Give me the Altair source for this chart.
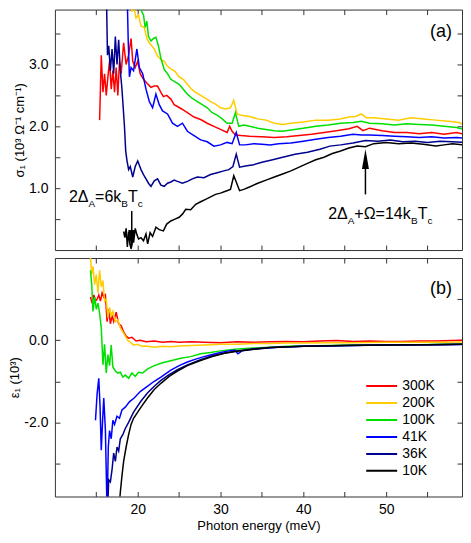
import altair as alt
import pandas as pd

TEMPS = ["300K", "200K", "100K", "41K", "36K", "10K"]
COLORS = ["#ff0000", "#ffcc00", "#00e000", "#0000ff", "#000090", "#000000"]

X_DOMAIN = [10, 59.16]
S1_DOMAIN = [0, 3.887]
E1_DOMAIN = [-3.805, 2]
X_TICKS = [15, 20, 25, 30, 35, 40, 45, 50, 55]
S1_TICKS = [0.5, 1.0, 1.5, 2.0, 2.5, 3.0, 3.5]
E1_TICKS = [-3, -2, -1, 0, 1]

# ---------------- sigma_1 (top panel) ----------------
S1_300K_X = [15.4, 15.6, 15.8, 16.0, 16.2, 16.4, 16.6, 16.8, 17.0, 17.2, 17.4, 17.6, 17.8, 18.0, 18.3, 18.6, 18.9, 19.2, 19.4, 19.7, 20.0, 20.3, 20.7, 21.1, 21.6, 22.0, 22.4, 22.8, 23.1, 23.5, 24.0, 24.4, 24.8, 25.3, 26.0, 26.8, 27.6, 28.4, 29.2, 30.0, 30.8, 31.1, 31.4, 31.8, 32.5, 33.5, 35, 36.5, 38, 39.5, 41, 42.5, 44, 45.5, 46.5, 47.2, 48, 49.5, 51, 52.5, 54, 55.5, 57, 58.5, 59.9]
S1_300K_Y = [2.1, 3.15, 2.55, 2.85, 2.5, 2.8, 3.05, 2.6, 2.9, 2.55, 2.95, 2.5, 3.05, 2.85, 3.35, 3.0, 3.15, 3.42, 3.05, 2.95, 3.05, 2.85, 2.76, 2.7, 2.63, 2.65, 2.65, 2.55, 2.48, 2.5, 2.44, 2.35, 2.32, 2.28, 2.22, 2.15, 2.11, 2.05, 2.0, 1.95, 1.9, 2.0, 1.92, 1.86, 1.85, 1.84, 1.83, 1.82, 1.83, 1.85, 1.87, 1.9, 1.93, 1.96, 2.0, 1.93, 1.97, 1.93, 1.9, 1.9, 1.88, 1.9, 1.87, 1.9, 1.86]

S1_200K_X = [19.1, 19.3, 19.5, 19.8, 20.1, 20.4, 20.8, 21.1, 21.4, 21.7, 22.0, 22.4, 22.8, 23.2, 23.6, 24.0, 24.5, 25.0, 25.5, 26.0, 26.5, 27.0, 27.6, 28.2, 28.8, 29.4, 30.0, 30.6, 31.2, 31.6, 32.0, 32.5, 33.5, 34.5, 35.5, 36.5, 37.5, 38.5, 40, 41.5, 43, 44.5, 45.5, 46.3, 47, 47.6, 48.5, 50, 51.5, 53, 54.5, 56, 57.5, 58.8, 59.9]
S1_200K_Y = [4.3, 3.85, 3.95, 3.75, 3.8, 3.62, 3.6, 3.42, 3.35, 3.3, 3.25, 3.13, 3.08, 3.05, 2.97, 2.93, 2.89, 2.8, 2.76, 2.68, 2.6, 2.55, 2.5, 2.45, 2.4, 2.36, 2.3, 2.28, 2.3, 2.42, 2.2, 2.18, 2.16, 2.12, 2.1, 2.05, 2.03, 2.05, 2.07, 2.1, 2.1, 2.12, 2.15, 2.16, 2.2, 2.14, 2.14, 2.12, 2.1, 2.14, 2.12, 2.1, 2.08, 2.06, 2.0]

S1_100K_X = [20.3, 20.5, 20.7, 20.9, 21.1, 21.3, 21.6, 21.9, 22.2, 22.5, 22.8, 23.2, 23.6, 24.0, 24.5, 25.0, 25.5, 26.0, 26.6, 27.2, 27.8, 28.4, 29.0, 29.6, 30.2, 30.8, 31.4, 31.8, 32.2, 32.8, 33.5, 34.5, 35.5, 36.5, 37.5, 38.5, 40, 41.5, 43, 44.5, 46, 47, 48, 49.5, 51, 52.5, 54, 55.5, 57, 58.5, 59.9]
S1_100K_Y = [4.3, 3.85, 3.8, 3.6, 3.7, 3.45, 3.38, 3.42, 3.44, 3.3, 3.1, 2.92, 2.85, 2.76, 2.72, 2.68, 2.6, 2.52, 2.45, 2.4, 2.35, 2.3, 2.22, 2.18, 2.12, 2.05, 2.05, 2.22, 2.0, 2.02, 2.0, 1.97, 1.95, 1.93, 1.92, 1.94, 1.97, 2.0, 2.02, 2.05, 2.06, 2.08, 2.05, 2.04, 2.02, 2.04, 2.03, 2.02, 2.0, 1.98, 1.93]

S1_41K_X = [18.7, 18.85, 19.0, 19.2, 19.5, 19.9, 20.2, 20.6, 21.0, 21.4, 21.8, 22.2, 22.6, 23.0, 23.6, 24.2, 24.8, 25.4, 26.0, 26.8, 27.6, 28.4, 29.2, 30.0, 30.8, 31.4, 31.9, 32.3, 33, 34, 35, 36, 37, 38.5, 40, 41.5, 43, 44.5, 46, 47, 48, 49.5, 51, 52.5, 54, 55.5, 57, 58.5, 59.9]
S1_41K_Y = [4.3, 3.4, 2.8, 2.95, 2.9, 3.25, 2.95, 2.85, 2.6, 2.4, 2.3, 2.52, 2.35, 2.25, 2.2, 2.05, 2.0, 2.05, 1.92, 1.85, 1.78, 1.75, 1.68, 1.7, 1.74, 1.72, 1.9, 1.7, 1.7, 1.72, 1.71, 1.7, 1.72, 1.73, 1.76, 1.79, 1.82, 1.84, 1.87, 1.86, 1.86, 1.85, 1.84, 1.83, 1.82, 1.83, 1.81, 1.82, 1.8]

S1_36K_X = [16.2, 16.35, 16.5, 16.7, 16.9, 17.1, 17.3, 17.5, 17.7, 17.9, 18.1, 18.25, 18.4, 18.55, 18.7, 18.9, 19.1, 19.4, 19.7, 20.0, 20.4, 20.7, 21.0, 21.3, 21.6, 22.0, 22.4, 22.8, 23.2, 23.6, 24.0, 24.4, 24.8, 25.4, 26.0, 26.6, 27.2, 28, 28.8, 29.6, 30.4, 31.0, 31.5, 31.9, 32.3, 33, 34, 35, 36.3, 37.5, 39, 40.5, 42, 43.2, 44.5, 46, 47.5, 49, 50.5, 52, 53.5, 55, 56.5, 58, 59.9]
S1_36K_Y = [4.3, 3.15, 3.3, 2.9, 3.25, 2.85, 3.45, 3.0, 3.4, 2.9, 2.6, 2.3, 2.0, 1.6, 1.45, 1.3, 1.35, 1.18, 1.35, 1.44, 1.3, 1.22, 1.15, 1.08, 1.03, 1.12, 1.15, 1.05, 1.03, 1.08, 1.1, 1.13, 1.11, 1.08, 1.11, 1.15, 1.18, 1.17, 1.22, 1.25, 1.28, 1.3, 1.35, 1.55, 1.34, 1.36, 1.38, 1.42, 1.46, 1.5, 1.55, 1.58, 1.63, 1.68, 1.7, 1.73, 1.77, 1.76, 1.78, 1.75, 1.76, 1.74, 1.76, 1.75, 1.74]

S1_10K_X = [18.3, 18.45, 18.6, 18.75, 18.9, 19.05, 19.2, 19.35, 19.5, 19.7, 19.9, 20.1, 20.4, 20.7, 21.0, 21.2, 21.5, 21.8, 22.2, 22.6, 23.1, 23.5, 24.0, 24.5, 25.0, 25.4, 25.8, 26.4, 27.0, 27.6, 28.2, 28.8, 29.4, 30.0, 30.6, 31.2, 31.6, 31.9, 32.3, 32.8, 33.5, 34.5, 35.5, 36.5, 37.5, 38.5, 39.5, 40.5, 41.5, 42.5, 43.5, 44.5, 45.5, 46.5, 47.5, 48.5, 50, 51.5, 53, 54.5, 56, 57, 58, 59.9]
S1_10K_Y = [0.3, 0.2, 0.35, 0.05, 0.3, 0.1, 0.02, 0.25, 0.12, 0.35, 0.25, 0.18, 0.2, 0.15, 0.26, 0.1, 0.28, 0.22, 0.37, 0.33, 0.31, 0.42, 0.47, 0.5, 0.53, 0.58, 0.66, 0.65, 0.74, 0.78, 0.82, 0.86, 0.9, 0.92, 0.95, 0.98, 1.2, 1.1, 0.96, 0.98, 1.02, 1.08, 1.13, 1.18, 1.23, 1.28, 1.34, 1.4, 1.46, 1.5, 1.56, 1.6, 1.65, 1.68, 1.67, 1.72, 1.74, 1.72, 1.73, 1.71, 1.68, 1.7, 1.72, 1.69]

# ---------------- epsilon_1 (bottom panel) ----------------
E1_300K_X = [14.3, 14.5, 14.7, 14.9, 15.1, 15.3, 15.5, 15.7, 15.9, 16.1, 16.3, 16.5, 16.7, 16.9, 17.1, 17.4, 17.7, 18.0, 18.3, 18.6, 18.9, 19.3, 19.8, 20.3, 21, 22, 23, 24, 25, 26.5, 28, 30, 32, 34, 36, 38, 40, 42, 44, 46, 48, 50, 52, 54, 56, 58, 59.9]
E1_300K_Y = [1.05, 0.9, 1.1, 0.95, 1.0, 1.1, 0.95, 1.15, 1.05, 1.1, 0.45, 0.75, 0.4, 0.6, 0.45, 0.68, 0.4, 0.35, 0.2, 0.1, 0.05, 0.07, -0.02, 0.0, -0.04, -0.02, -0.05, -0.03, -0.05, -0.04, -0.05, -0.06, -0.04, -0.05, -0.04, -0.03, -0.04, -0.02, -0.01, -0.03, -0.02, -0.03, -0.03, -0.02, -0.02, -0.01, 0.0]

E1_200K_X = [14.3, 14.45, 14.6, 14.8, 15.0, 15.2, 15.4, 15.6, 15.8, 16.0, 16.2, 16.4, 16.6, 16.8, 17.0, 17.3, 17.6, 17.9, 18.2, 18.5, 18.8, 19.1, 19.5, 20, 20.5, 21, 22, 23, 24, 25, 26.5, 28, 30, 32, 34, 36, 38, 40, 43, 46, 50, 54, 57, 59.9]
E1_200K_Y = [2.0, 1.6, 1.8, 1.35, 1.6, 1.15, 1.7, 1.3, 1.45, 0.95, 1.0, 0.55, 0.8, 0.6, 0.7, 0.45, 0.5, 0.3, 0.2, 0.1, 0.0, -0.05, -0.12, -0.1, -0.15, -0.14, -0.17, -0.15, -0.16, -0.14, -0.13, -0.12, -0.1, -0.1, -0.08, -0.08, -0.07, -0.07, -0.06, -0.06, -0.05, -0.05, -0.05, -0.04]

E1_100K_X = [14.3, 14.45, 14.6, 14.8, 15.0, 15.2, 15.4, 15.6, 15.8, 16.0, 16.2, 16.4, 16.6, 16.8, 17.0, 17.3, 17.6, 17.9, 18.2, 18.5, 18.9, 19.3, 19.7, 20.1, 20.6, 21.2, 22, 23, 24, 25.2, 26.4, 27.6, 28.8, 30, 31.2, 32.5, 34, 36, 38, 40, 43, 46, 50, 54, 57, 59.9]
E1_100K_Y = [1.7, 1.35, 0.7, 1.05, 0.75, 0.9, 0.65, 0.3, -0.6, -0.1, -0.8, -0.35, -0.62, -0.12, -0.65, -0.75, -0.8, -0.78, -0.9, -0.85, -0.93, -0.8, -0.88, -0.78, -0.8, -0.7, -0.62, -0.55, -0.5, -0.44, -0.4, -0.33, -0.3, -0.26, -0.23, -0.21, -0.19, -0.17, -0.15, -0.14, -0.13, -0.12, -0.11, -0.11, -0.1, -0.1]

E1_41K_X = [14.9, 15.1, 15.3, 15.45, 15.6, 15.75, 15.9, 16.1, 16.3, 16.45, 16.6, 16.8, 17.0, 17.2, 17.5, 17.8, 18.1, 18.5, 19.0, 19.6, 20.3, 21.2, 22.0, 22.8, 24, 25, 26, 27, 28, 29, 30, 31, 31.7, 32.1, 32.6, 33.5, 35, 37, 40, 43, 46, 50, 54, 57, 59.9]
E1_41K_Y = [-1.95, -1.3, -0.93, -1.6, -2.68, -2.0, -1.41, -2.2, -4.2, -2.6, -2.2, -2.4, -1.95, -2.05, -1.85, -1.9, -1.7, -1.63, -1.5, -1.4, -1.25, -1.12, -1.0, -0.9, -0.73, -0.62, -0.53, -0.46, -0.4, -0.35, -0.3, -0.26, -0.24, -0.33, -0.26, -0.23, -0.2, -0.17, -0.15, -0.14, -0.13, -0.12, -0.11, -0.11, -0.1]

E1_36K_X = [16.35, 16.5, 16.7, 16.9, 17.1, 17.3, 17.5, 17.7, 17.9, 18.2, 18.5, 18.9, 19.5, 20.4, 21.2, 22.0, 22.8, 23.8, 24.8, 26, 27.5, 29, 30.5, 32, 34, 36, 40, 45, 50, 55, 59.9]
E1_36K_Y = [-4.2, -3.4, -3.45, -3.15, -2.75, -2.95, -2.6, -2.7, -2.4, -2.3, -2.15, -2.0, -1.75, -1.48, -1.28, -1.12, -0.98, -0.84, -0.72, -0.6, -0.48, -0.38, -0.31, -0.26, -0.21, -0.18, -0.15, -0.13, -0.12, -0.11, -0.1]

E1_10K_X = [17.7, 17.9, 18.1, 18.3, 18.6, 18.9, 19.2, 19.5, 20.0, 20.4, 21.2, 22.0, 22.8, 23.8, 24.8, 26, 27.5, 29, 30.5, 32, 34, 36, 40, 45, 50, 55, 59.9]
E1_10K_Y = [-4.2, -3.7, -3.3, -2.95, -2.6, -2.3, -2.05, -1.9, -1.75, -1.63, -1.4, -1.2, -1.05, -0.88, -0.75, -0.62, -0.5, -0.4, -0.32, -0.27, -0.22, -0.18, -0.15, -0.13, -0.12, -0.11, -0.1]

# ---------------- annotations ----------------
ANN1_X, ANN1_Y = 11.69, 0.774
ANN1_SEGS = [("2Δ", 0), ("A", 1), ("=6k", 0), ("B", 1), ("T", 0), ("c", 1)]
ANN2_X, ANN2_Y = 43.0, 0.5
ANN2_SEGS = [("2Δ", 0), ("A", 1), ("+Ω=14k", 0), ("B", 1), ("T", 0), ("c", 1)]
ARROW_X = [19.28, 47.5]
ARROW_Y0 = [0.63, 0.90]
ARROW_Y1 = [0.30, 1.31]
ARROW_HEAD_Y = [0.161, 1.47]
ARROW_DIR = ["down", "up"]
PANEL_LABEL_X = 56.63
PANEL_A_Y = 3.52
PANEL_B_Y = 1.24

W, H_TOP, H_BOT = 408, 241, 239
FONT = "Liberation Sans"
MAIN_FS, SUB_FS = 16, 10
CHAR_W = {"2": .556, "Δ": .668, "A": .667, "=": .584, "6": .556, "k": .5, "B": .667,
          "T": .611, "c": .5, "+": .584, "Ω": .768, "1": .556, "4": .556}


def long_df(series):
    rows = []
    for k, (t, xs, ys) in enumerate(series):
        assert len(xs) == len(ys), t
        for x, y in zip(xs, ys):
            rows.append({"E": x, "v": y, "T": t, "k": k})
    return pd.DataFrame(rows)


s1 = long_df([("300K", S1_300K_X, S1_300K_Y), ("200K", S1_200K_X, S1_200K_Y),
              ("100K", S1_100K_X, S1_100K_Y), ("41K", S1_41K_X, S1_41K_Y),
              ("36K", S1_36K_X, S1_36K_Y), ("10K", S1_10K_X, S1_10K_Y)])
e1 = long_df([("300K", E1_300K_X, E1_300K_Y), ("200K", E1_200K_X, E1_200K_Y),
              ("100K", E1_100K_X, E1_100K_Y), ("41K", E1_41K_X, E1_41K_Y),
              ("36K", E1_36K_X, E1_36K_Y), ("10K", E1_10K_X, E1_10K_Y)])

px_per_x = W / (X_DOMAIN[1] - X_DOMAIN[0])
px_per_s1 = H_TOP / (S1_DOMAIN[1] - S1_DOMAIN[0])


def ann_df(x0, y0, segs):
    rows, off = [], 0.0
    for txt, sub in segs:
        fs = SUB_FS if sub else MAIN_FS
        rows.append({"x": x0 + off / px_per_x, "y": y0 - (5 / px_per_s1 if sub else 0),
                     "t": txt, "fs": fs})
        off += sum(CHAR_W.get(ch, 0.55) for ch in txt) * fs
    return rows


ann = pd.DataFrame(ann_df(ANN1_X, ANN1_Y, ANN1_SEGS) + ann_df(ANN2_X, ANN2_Y, ANN2_SEGS))
arrows = pd.DataFrame({"x": ARROW_X, "y0": ARROW_Y0, "y1": ARROW_Y1, "yh": ARROW_HEAD_Y, "d": ARROW_DIR})

xs = alt.Scale(domain=X_DOMAIN, nice=False, zero=False)
ys_top = alt.Scale(domain=S1_DOMAIN, nice=False, zero=False)
ys_bot = alt.Scale(domain=E1_DOMAIN, nice=False, zero=False)
cscale = alt.Scale(domain=TEMPS, range=COLORS)

TICK = dict(tickSize=5, offset=-5, domain=False, grid=False, tickColor="#333333", tickWidth=1,
            labelFont=FONT, labelFontSize=14, labelColor="black",
            titleFont=FONT, titleFontSize=13, titleFontWeight="normal", titleColor="black")


def x_axis(orient, with_labels, title=None):
    if with_labels:
        return alt.Axis(orient=orient, values=X_TICKS, title=title,
                        labelExpr="datum.value % 10 == 0 ? '' + datum.value : ''",
                        labelPadding=6, titlePadding=3, **TICK)
    return alt.Axis(orient=orient, values=X_TICKS, labels=False, title=None, **TICK)


def y_axis(orient, values, expr=None, title=None):
    if expr:
        return alt.Axis(orient=orient, values=values, title=title, labelExpr=expr,
                        labelPadding=7, titlePadding=2, **TICK)
    return alt.Axis(orient=orient, values=values, labels=False, title=None, **TICK)


# ---------- top panel ----------
top_lines = alt.Chart(s1).mark_line(strokeWidth=1.5, clip=True).encode(
    x=alt.X("E:Q", scale=xs, axis=x_axis("bottom", False)),
    y=alt.Y("v:Q", scale=ys_top,
            axis=y_axis("left", S1_TICKS,
                        "datum.value == 1 || datum.value == 2 || datum.value == 3 ? format(datum.value, '.1f') : ''",
                        "σ₁ (10³ Ω⁻¹ cm⁻¹)")),
    color=alt.Color("T:N", scale=cscale, legend=None),
    detail="k:N",
)

top_label = alt.Chart(pd.DataFrame({"x": [PANEL_LABEL_X], "y": [PANEL_A_Y], "t": ["(a)"]})).mark_text(
    font=FONT, fontSize=18, baseline="middle", align="center", color="black").encode(
    x=alt.X("x:Q", scale=xs, axis=x_axis("top", False)),
    y=alt.Y("y:Q", scale=ys_top, axis=y_axis("right", S1_TICKS)),
    text="t:N",
)

ann_text = alt.Chart(ann).mark_text(font=FONT, align="left", baseline="alphabetic", color="black").encode(
    x=alt.X("x:Q", scale=xs, axis=None),
    y=alt.Y("y:Q", scale=ys_top, axis=None),
    text="t:N",
    size=alt.Size("fs:Q", scale=None),
)

arrow_rules = alt.Chart(arrows).mark_rule(color="black", strokeWidth=1.5).encode(
    x=alt.X("x:Q", scale=xs, axis=None),
    y=alt.Y("y0:Q", scale=ys_top, axis=None),
    y2="y1:Q",
)

head_down = alt.Chart(arrows).transform_filter("datum.d == 'down'").mark_point(
    shape="M-0.35,-1L0.35,-1L0,1Z", filled=True, size=400, color="black", opacity=1).encode(
    x=alt.X("x:Q", scale=xs, axis=None),
    y=alt.Y("yh:Q", scale=ys_top, axis=None),
)
head_up = alt.Chart(arrows).transform_filter("datum.d == 'up'").mark_point(
    shape="M-0.35,1L0.35,1L0,-1Z", filled=True, size=400, color="black", opacity=1).encode(
    x=alt.X("x:Q", scale=xs, axis=None),
    y=alt.Y("yh:Q", scale=ys_top, axis=None),
)

top = alt.layer(top_lines, top_label, ann_text, arrow_rules, head_down, head_up).resolve_axis(
    x="independent", y="independent").properties(width=W, height=H_TOP)

# ---------- bottom panel ----------
bot_lines = alt.Chart(e1).mark_line(strokeWidth=1.5, clip=True).encode(
    x=alt.X("E:Q", scale=xs, axis=x_axis("bottom", True, "Photon energy (meV)")),
    y=alt.Y("v:Q", scale=ys_bot,
            axis=y_axis("left", E1_TICKS,
                        "datum.value == 0 ? '0.0' : datum.value == -2 ? '-2.0' : ''",
                        "ε₁ (10³)")),
    color=alt.Color("T:N", scale=cscale, legend=alt.Legend(
        orient="none", legendX=311, legendY=120, title=None, symbolType="stroke",
        symbolSize=961, symbolStrokeWidth=2, labelFont=FONT, labelFontSize=14,
        labelColor="black", labelOffset=4, clipHeight=16.6, rowPadding=0, padding=0)),
    detail="k:N",
)

bot_label = alt.Chart(pd.DataFrame({"x": [PANEL_LABEL_X], "y": [PANEL_B_Y], "t": ["(b)"]})).mark_text(
    font=FONT, fontSize=18, baseline="middle", align="center", color="black").encode(
    x=alt.X("x:Q", scale=xs, axis=x_axis("top", False)),
    y=alt.Y("y:Q", scale=ys_bot, axis=y_axis("right", E1_TICKS)),
    text="t:N",
)

bottom = alt.layer(bot_lines, bot_label).resolve_axis(
    x="independent", y="independent").properties(width=W, height=H_BOT)

chart = alt.vconcat(top, bottom, spacing=6).resolve_legend(color="independent").properties(
    padding={"left": 0, "top": 0, "right": 0, "bottom": 0}, background="white"
).configure_view(stroke="#333333", strokeWidth=1).configure_axis(
    labelFont=FONT, labelFontSize=14, labelColor="black",
    titleFont=FONT, titleFontSize=13, titleFontWeight="normal", titleColor="black",
)

chart.save("out.html", embed_options={"renderer": "svg", "actions": False})
